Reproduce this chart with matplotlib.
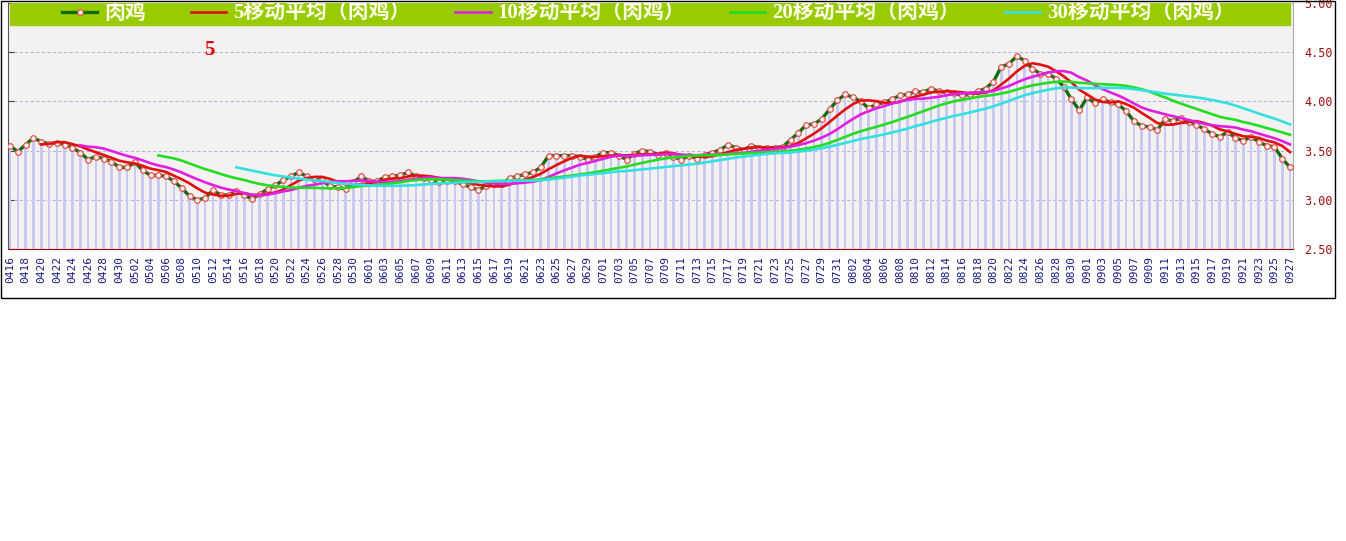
import matplotlib
matplotlib.use("Agg")
import matplotlib.pyplot as plt
from matplotlib.patches import Rectangle
import numpy as np
import pandas as pd

# daily price of 肉鸡, 0416 .. 0927
dates = pd.date_range("2019-04-16", "2019-09-27", freq="D")
day_labels = [d.strftime("%m%d") for d in dates]
price = [3.55, 3.49, 3.56, 3.63, 3.59, 3.57, 3.58, 3.56, 3.53, 3.48,
         3.41, 3.44, 3.42, 3.39, 3.33, 3.33, 3.38, 3.30, 3.25, 3.25,
         3.24, 3.19, 3.12, 3.04, 3.00, 3.02, 3.10, 3.05, 3.05, 3.09,
         3.05, 3.01, 3.06, 3.11, 3.15, 3.20, 3.24, 3.28, 3.24, 3.21,
         3.20, 3.14, 3.13, 3.11, 3.18, 3.24, 3.19, 3.19, 3.23, 3.24,
         3.25, 3.28, 3.24, 3.22, 3.20, 3.18, 3.19, 3.19, 3.16, 3.13,
         3.10, 3.14, 3.16, 3.16, 3.22, 3.24, 3.26, 3.28, 3.33, 3.45,
         3.45, 3.45, 3.45, 3.44, 3.41, 3.44, 3.48, 3.48, 3.45, 3.41,
         3.47, 3.50, 3.49, 3.46, 3.48, 3.44, 3.41, 3.45, 3.42, 3.46,
         3.48, 3.51, 3.56, 3.53, 3.51, 3.55, 3.53, 3.53, 3.53, 3.54,
         3.61, 3.68, 3.76, 3.77, 3.82, 3.92, 4.01, 4.07, 4.04, 4.00,
         3.93, 3.97, 3.99, 4.02, 4.06, 4.07, 4.10, 4.09, 4.13, 4.10,
         4.09, 4.08, 4.06, 4.07, 4.10, 4.13, 4.20, 4.35, 4.38, 4.46,
         4.41, 4.33, 4.28, 4.28, 4.23, 4.15, 4.02, 3.91, 4.04, 3.98,
         4.02, 3.99, 3.97, 3.90, 3.80, 3.75, 3.74, 3.71, 3.82, 3.80,
         3.83, 3.79, 3.76, 3.72, 3.67, 3.64, 3.69, 3.63, 3.60, 3.64,
         3.59, 3.55, 3.54, 3.42, 3.33]
series_name = "肉鸡"
ma_windows = [5, 10, 20, 30]
ma_colors = ["#e01010", "#e020e0", "#22dd22", "#33e0e0"]
y_ticks = [2.5, 3.0, 3.5, 4.0, 4.5, 5.0]

s = pd.Series(price)
x = np.arange(len(price))

W, H = 1346, 541
fig = plt.figure(figsize=(W / 100, H / 100), dpi=100)
ax = fig.add_axes([8 / W, 1 - 249.3 / H, 1285 / W, 246.6 / H])
ax.set_facecolor("#f4f2f1")

# volume-like bars under the price line
ax.bar(x, price, width=0.34, color="#c9c9f2", zorder=1)

lines = []
ln, = ax.plot(x, price, color="#0b6e0b", lw=2.4, marker="o", ms=4,
              mfc="#fff0ee", mec="#e05050", mew=0.9, zorder=3)
lines.append(ln)
for w, c in zip(ma_windows, ma_colors):
    ln, = ax.plot(x, s.rolling(w).mean(), color=c, lw=1.9, zorder=4)
    lines.append(ln)

ax.set_xlim(-0.26, len(price) - 1 + 0.38)
ax.set_ylim(2.5, 5.0)

ax.set_yticks(y_ticks)
ax.set_yticklabels([f"{v:.2f}" for v in y_ticks], family="DejaVu Sans Mono",
                   fontsize=8.5, color="#a01010")
ax.yaxis.grid(True, linestyle=(0, (3, 2)), color="#b4b4e4", lw=0.8)
ax.set_axisbelow(True)
ax.tick_params(axis="y", left=True, right=False, labelleft=False, labelright=True,
               direction="in", length=4, color="#444444", pad=8)

ax.set_xticks(x[::2])
ax.set_xticklabels(day_labels[::2], rotation=90, family="DejaVu Sans Mono",
                   fontsize=8, color="#1a1a80")
ax.tick_params(axis="x", direction="in", length=4, color="#990000", pad=5)

ax.spines["top"].set_visible(False)
ax.spines["left"].set_color("#555555")
ax.spines["bottom"].set_color("#990000")
ax.spines["right"].set_color("#aaaaaa")
ax.spines["right"].set_linewidth(0.8)

# green legend strip
ax.add_patch(Rectangle((2 / 1285, 0.9096), 1280 / 1285, 0.0892,
                       transform=ax.transAxes, color="#99cc00", zorder=5))
labels = [series_name] + [f"{w}移动平均（{series_name}）" for w in ma_windows]
leg = ax.legend(lines, labels, loc="center", ncol=5, mode="expand",
                bbox_to_anchor=(0.042, 0.9096, 0.913, 0.0892), frameon=False,
                prop=dict(family=["Liberation Serif", "Noto Sans CJK SC"], size=15,
                          weight="bold"),
                handlelength=1.7, handletextpad=0.35, borderpad=0, borderaxespad=0)
leg.set_zorder(6)
for t in leg.get_texts():
    t.set_color("#fcfce8")

fig.text(209 / W, 1 - 50 / H, "5", color="#dd0000", fontsize=15,
         family="Liberation Serif", weight="bold", ha="center", va="center")

# outer frame
fig.add_artist(Rectangle((0.5 / W, 1 - 298 / H), 1334 / W, 297.5 / H,
                         transform=fig.transFigure, fill=False, ec="black", lw=1))

fig.savefig("out.png", dpi=100)
